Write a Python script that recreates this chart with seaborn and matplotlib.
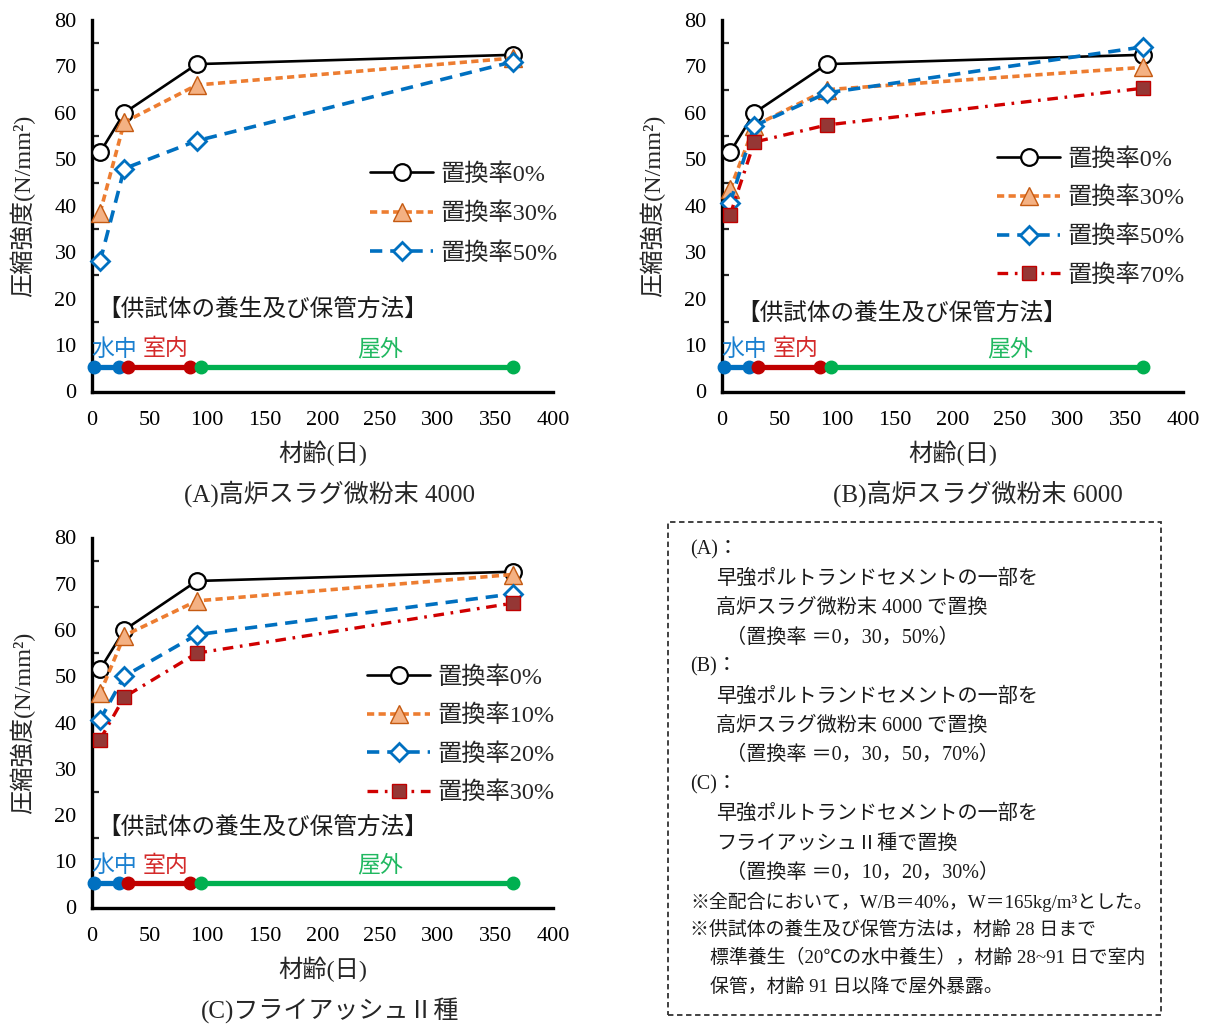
import matplotlib
matplotlib.use("Agg")
import matplotlib.pyplot as plt
from matplotlib.patches import Rectangle
from matplotlib.ticker import MultipleLocator
import seaborn as sns

# ---- data -------------------------------------------------------------
ages = [7, 28, 91, 365]

a_labels = ["置換率0%", "置換率30%", "置換率50%"]
a_r0 = [51.5, 60.0, 70.5, 72.5]
a_r30 = [38.5, 58.0, 66.0, 71.8]
a_r50 = [28.0, 48.0, 54.0, 71.0]

b_labels = ["置換率0%", "置換率30%", "置換率50%", "置換率70%"]
b_r0 = [51.5, 60.0, 70.5, 72.5]
b_r30 = [43.5, 57.2, 65.0, 69.8]
b_r50 = [40.6, 57.2, 64.3, 74.2]
b_r70 = [38.0, 53.7, 57.4, 65.3]

c_labels = ["置換率0%", "置換率10%", "置換率20%", "置換率30%"]
c_r0 = [51.5, 60.0, 70.6, 72.6]
c_r10 = [46.3, 58.8, 66.3, 72.0]
c_r20 = [40.6, 50.0, 59.0, 67.8]
c_r30 = [36.3, 45.5, 55.0, 65.8]

cure_names = ["水中", "室内", "屋外"]
cure_start = [2, 31, 95]
cure_end = [23, 85, 365]
cure_label_x = [19, 64, 250]
cure_level = 5.3

titles = ["(A)高炉スラグ微粉末 4000", "(B)高炉スラグ微粉末 6000", "(C)フライアッシュⅡ種"]

note_lines = [
    ("(A)：", 0),
    ("早強ポルトランドセメントの一部を", 1),
    ("高炉スラグ微粉末 4000 で置換", 1),
    ("（置換率 ＝0，30，50%）", 2),
    ("(B)：", 0),
    ("早強ポルトランドセメントの一部を", 1),
    ("高炉スラグ微粉末 6000 で置換", 1),
    ("（置換率 ＝0，30，50，70%）", 2),
    ("(C)：", 0),
    ("早強ポルトランドセメントの一部を", 1),
    ("フライアッシュⅡ種で置換", 1),
    ("（置換率 ＝0，10，20，30%）", 2),
    ("※全配合において，W/B＝40%，W＝165kg/m³とした。", 0),
    ("※供試体の養生及び保管方法は，材齢 28 日まで", 0),
    ("標準養生（20℃の水中養生），材齢 28~91 日で室内", 3),
    ("保管，材齢 91 日以降で屋外暴露。", 3),
]

# ---- styling ----------------------------------------------------------
sns.set_style("white")
plt.rcParams["font.family"] = ["Liberation Serif", "Noto Sans CJK JP"]
plt.rcParams["axes.unicode_minus"] = False

BLUE = "#0070C0"
ORANGE = "#ED7D31"
RED = "#D00000"
GREEN = "#00B050"

styles = {
    "black": dict(color="black", lw=1.9, linestyle="-", marker="o", markersize=12,
                  markerfacecolor="white", markeredgecolor="black", markeredgewidth=1.6),
    "orange": dict(color=ORANGE, lw=2.6, linestyle=(0, (2.0, 1.2)), marker="^", markersize=12.5,
                   markerfacecolor="#F4B183", markeredgecolor="#C55A11", markeredgewidth=1.0),
    "blue": dict(color=BLUE, lw=2.6, linestyle=(0, (3.4, 2.2)), marker="D", markersize=9,
                 markerfacecolor="white", markeredgecolor=BLUE, markeredgewidth=2.0),
    "red": dict(color=RED, lw=2.4, linestyle=(0, (3.2, 2.0, 0.8, 2.0)), marker="s", markersize=10.5,
                markerfacecolor="#953735", markeredgecolor="#C00000", markeredgewidth=1.0),
}

W, H = 1210, 1025
fig = plt.figure(figsize=(W / 100, H / 100), dpi=100)


def fx(px):
    return px / W


def fy(py):
    return 1 - py / H


def make_axes(left, top, right, bottom):
    return fig.add_axes([fx(left), fy(bottom), fx(right) - fx(left), fy(top) - fy(bottom)])


def draw_panel(ax, series, labels, legend_anchor, legend_gap, method_xy):
    for y, key, lab in series:
        sns.lineplot(x=ages, y=y, ax=ax, label=lab, clip_on=False, zorder=3, **styles[key])

    # curing / storage periods
    cure_colors = [BLUE, "#C00000", GREEN]
    for s, e, c in zip(cure_start, cure_end, cure_colors):
        ax.plot([s, e], [cure_level, cure_level], color=c, lw=3.8, marker="o",
                markersize=9, clip_on=False, zorder=4, solid_capstyle="butt")
    text_colors = ["#1B80D0", "#D42A2A", "#20B860"]
    for name, x, c in zip(cure_names, cure_label_x, text_colors):
        ax.text(x, 9.0, name, color=c, fontsize=16.5, ha="center", va="center")
    ax.text(method_xy[0], method_xy[1], "【供試体の養生及び保管方法】", fontsize=17,
            ha="left", va="center", color="#1a1a1a")

    ax.set_xlim(0, 400)
    ax.set_ylim(0, 80)
    ax.xaxis.set_major_locator(MultipleLocator(50))
    ax.yaxis.set_major_locator(MultipleLocator(10))
    ax.yaxis.set_minor_locator(MultipleLocator(5))
    ax.tick_params(axis="x", which="major", direction="inout", length=10, width=1.6,
                   labelsize=16, pad=9, colors="black")
    ax.tick_params(axis="y", which="major", direction="inout", length=10, width=1.6,
                   labelsize=16, pad=6, colors="black")
    ax.tick_params(axis="y", which="minor", direction="in", length=5, width=1.6, left=True)
    for side in ("top", "right"):
        ax.spines[side].set_visible(False)
    for side in ("left", "bottom"):
        ax.spines[side].set_linewidth(2.4)
        ax.spines[side].set_color("black")

    ax.set_xlabel("材齢(日)", fontsize=17.5)
    ax.xaxis.label.set_va("center")
    ax.xaxis.set_label_coords(0.5, -0.166)
    ax.set_ylabel("圧縮強度(N/mm²)", fontsize=17.5)
    ax.yaxis.label.set_va("center")
    ax.yaxis.set_label_coords(-0.150, 0.5)

    handles, _ = ax.get_legend_handles_labels()
    ax.legend(handles, labels, loc="upper left", bbox_to_anchor=legend_anchor,
              frameon=False, fontsize=17.5, handlelength=2.6, handletextpad=0.3,
              labelspacing=legend_gap, borderpad=0, borderaxespad=0)


ax_a = make_axes(92, 20, 553, 391.5)
draw_panel(ax_a,
           [(a_r0, "black", a_labels[0]), (a_r30, "orange", a_labels[1]),
            (a_r50, "blue", a_labels[2])],
           a_labels, (0.603, 0.615), 0.7, (5, 17.6))

ax_b = make_axes(722, 20, 1183, 391.5)
draw_panel(ax_b,
           [(b_r0, "black", b_labels[0]), (b_r30, "orange", b_labels[1]),
            (b_r50, "blue", b_labels[2]), (b_r70, "red", b_labels[3])],
           b_labels, (0.597, 0.655), 0.66, (12, 16.8))

ax_c = make_axes(92, 537.5, 553, 907.5)
draw_panel(ax_c,
           [(c_r0, "black", c_labels[0]), (c_r10, "orange", c_labels[1]),
            (c_r20, "blue", c_labels[2]), (c_r30, "red", c_labels[3])],
           c_labels, (0.597, 0.652), 0.65, (5, 17.2))

fig.text(fx(330), fy(494), titles[0], fontsize=18, ha="center", va="center")
fig.text(fx(978), fy(494), titles[1], fontsize=18, ha="center", va="center")
fig.text(fx(330), fy(1010), titles[2], fontsize=18, ha="center", va="center")

# explanatory note box
fig.patches.append(Rectangle((fx(668), fy(1015)), fx(1161) - fx(668), fy(522) - fy(1015),
                             transform=fig.transFigure, fill=False, edgecolor="#333333",
                             lw=1.3, linestyle=(0, (3, 2))))
indent_px = [690, 716, 726, 710]
line_y = [550, 579, 608, 638, 667, 697, 726, 755, 785, 814, 844, 873, 902, 930, 958, 987]
for i, ((txt, ind), y) in enumerate(zip(note_lines, line_y)):
    size = 14.5 if i < 12 else 13.6
    fig.text(fx(indent_px[ind]), fy(y), txt, fontsize=size, ha="left", va="center",
             color="#1a1a1a")

fig.savefig("out.png", dpi=100)
